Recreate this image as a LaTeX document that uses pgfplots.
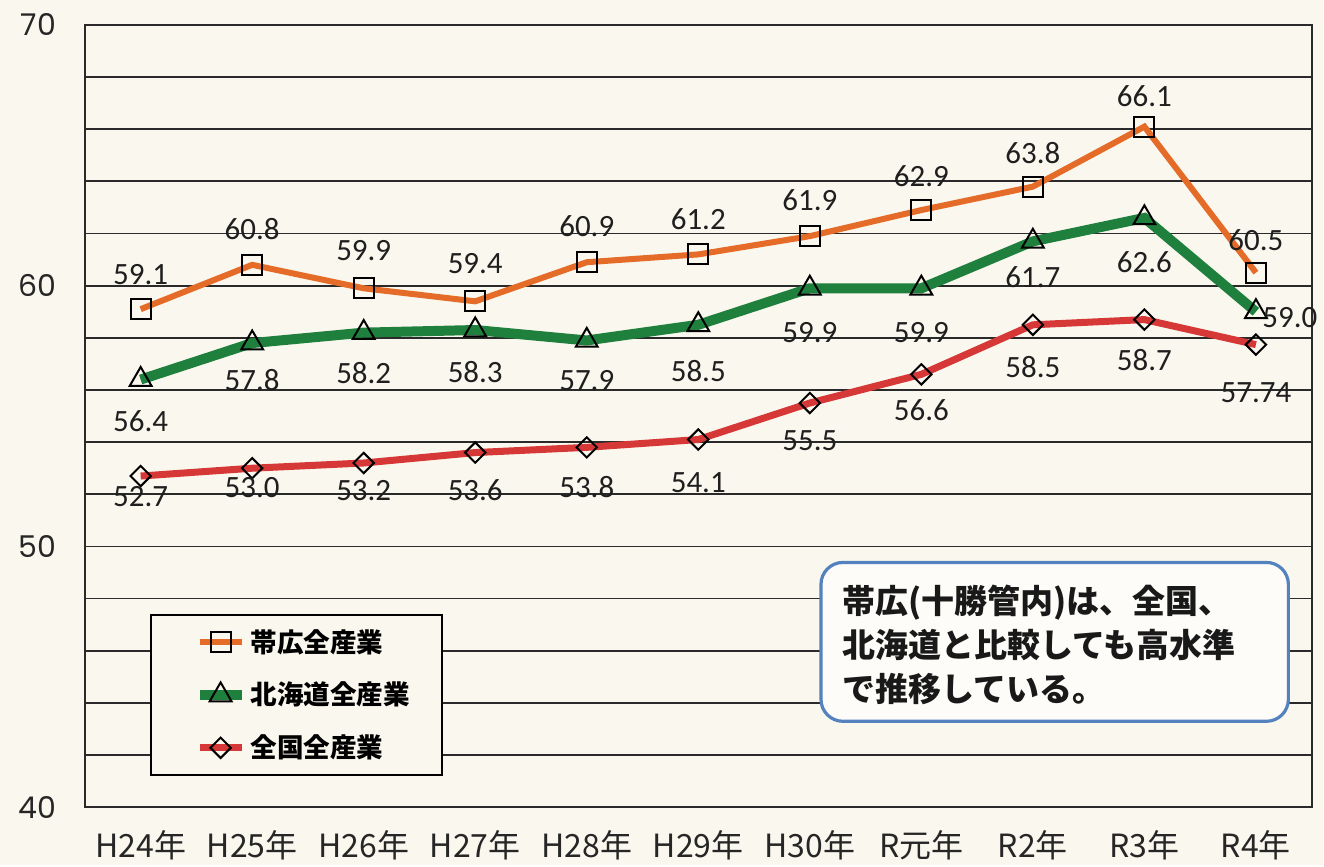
\documentclass[border=0pt]{standalone}
\usepackage{fontspec}
\setmainfont{Carlito}
\newfontfamily\jp{Noto Sans CJK JP}
\newfontfamily\geo{Poppins}
\usepackage{pgfplots}
\usepackage{pgfplotstable}
\pgfplotsset{compat=1.18}
\usetikzlibrary{backgrounds}
\definecolor{bgc}{HTML}{FAF8EE}
\definecolor{cOr}{RGB}{228,108,40}
\definecolor{cGr}{RGB}{31,128,61}
\definecolor{cRd}{RGB}{214,55,55}
\definecolor{cBl}{RGB}{84,130,190}
\definecolor{grd}{HTML}{2A2A2A}

\pgfplotstableread{
x y lab dy dx
0 59.1 59.1 17.5 0
1 60.8 60.8 18 0
2 59.9 59.9 19 0
3 59.4 59.4 19 0
4 60.9 60.9 18 0
5 61.2 61.2 17.5 0
6 61.9 61.9 18 0
7 62.9 62.9 17 0
8 63.8 63.8 17 0
9 66.1 66.1 15.5 0
10 60.5 60.5 16.5 0
}\obihiro

\pgfplotstableread{
x y lab dy dx
0 56.4 56.4 -21 0
1 57.8 57.8 -18.5 0
2 58.2 58.2 -20 0
3 58.3 58.3 -21 0
4 57.9 57.9 -20 0
5 58.5 58.5 -23 0
6 59.9 59.9 -22 0
7 59.9 59.9 -22 0
8 61.7 61.7 -18 0
9 62.6 62.6 -22 0
10 59.0 59.0 -3 17
}\hokkaido

\pgfplotstableread{
x y lab dy dx
0 52.7 52.7 -10.5 0
1 53.0 53.0 -9.5 0
2 53.2 53.2 -14 0
3 53.6 53.6 -19 0
4 53.8 53.8 -20 0
5 54.1 54.1 -21.5 0
6 55.5 55.5 -19 0
7 56.6 56.6 -18 0
8 58.5 58.5 -21 0
9 58.7 58.7 -20 0
10 57.74 57.74 -24 0
}\zenkoku

\pgfplotsset{
  lbl/.style={
    visualization depends on={\thisrow{dy} \as \dy},
    visualization depends on={\thisrow{dx} \as \dx},
    nodes near coords,
    point meta=explicit symbolic,
    every node near coord/.append style={anchor=center, yshift=\dy, xshift=\dx, font=\fontsize{15.5}{18}\selectfont, text=black!88},
  }
}

\begin{document}
\begin{tikzpicture}
\begin{axis}[
  scale only axis,
  width=614pt, height=391.5pt,
  xmin=-0.5, xmax=10.5,
  ymin=40, ymax=70,
  xtick={0,...,10},
  xticklabels={H24年,H25年,H26年,H27年,H28年,H29年,H30年,R元年,R2年,R3年,R4年},
  ytick={40,50,60,70},
  minor ytick={42,44,46,48,52,54,56,58,62,64,66,68},
  ymajorgrids, yminorgrids,
  major grid style={draw=grd, line width=0.9pt},
  minor grid style={draw=grd, line width=0.9pt},
  major tick length=0pt, minor tick length=0pt,
  axis line style={draw=grd, line width=1pt},
  tick style={draw=none},
  yticklabel style={font=\geo\fontsize{15}{18}\selectfont, xshift=-11pt, text=black!85},
  xticklabel style={font=\jp\fontsize{16}{19}\selectfont, yshift=-8pt, text=black!85},
  /pgf/number format/assume math mode=true,
  clip=false,
  legend image code/.code={\path (0,0); \draw[mark repeat=2,mark phase=2] plot coordinates {(8pt,0pt) (18.5pt,0pt) (29pt,0pt)};},
  legend style={at={(rel axis cs:0.0529,0.2465)}, anchor=north west, draw=black, line width=0.9pt, fill=bgc,
    font=\jp\bfseries\fontsize{13.3}{16}\selectfont, row sep=9.5pt, inner xsep=14pt, inner ysep=5pt,
    /tikz/every even column/.append style={column sep=1pt}},
  legend cell align=left,
]
\addplot[color=cOr, line width=3pt, mark=square, mark size=5pt,
  mark options={fill=white, draw=black, line width=1pt, solid}, lbl]
  table[x=x, y=y, meta=lab] {\obihiro};
\addlegendentry{帯広全産業}
\addplot[color=cGr, line width=5pt, mark=triangle, mark size=6.3pt,
  mark options={fill=white, draw=black, line width=1pt, solid}, lbl]
  table[x=x, y=y, meta=lab] {\hokkaido};
\addlegendentry{北海道全産業}
\addplot[color=cRd, line width=3.5pt, mark=square, mark size=3.6pt,
  mark options={fill=white, draw=black, line width=1pt, solid, rotate=45}, lbl]
  table[x=x, y=y, meta=lab] {\zenkoku};
\addlegendentry{全国全産業}

\draw[rounded corners=11pt, line width=1.6pt, draw=cBl, fill=white!60!bgc]
  (rel axis cs:0.600,0.1098) rectangle (rel axis cs:0.981,0.3129);
\node[anchor=west, align=left, font=\jp\bfseries\fontsize{16.5}{22}\selectfont, text=black!90, inner sep=0pt]
  at (rel axis cs:0.6173,0.2069) {帯広(十勝管内)は、全国、\\北海道と比較しても高水準\\で推移している。};

\coordinate (bbSW) at (rel axis cs:-0.0692,-0.0741);
\coordinate (bbNE) at (rel axis cs:1.00896,1.0319);
\end{axis}
\begin{scope}[on background layer]
\fill[bgc] (bbSW) rectangle (bbNE);
\end{scope}
\end{tikzpicture}
\end{document}
